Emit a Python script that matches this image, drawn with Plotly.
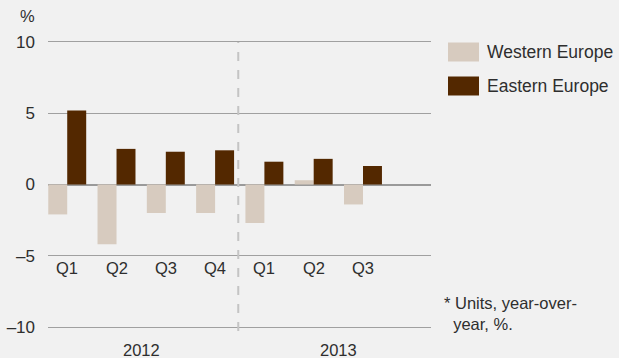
import plotly.graph_objects as go

quarters = ["Q1", "Q2", "Q3", "Q4", "Q1", "Q2", "Q3"]
years = ["2012", "2013"]
western = [-2.1, -4.2, -2.0, -2.0, -2.7, 0.3, -1.4]
eastern = [5.2, 2.5, 2.3, 2.4, 1.6, 1.8, 1.3]
y_ticks = [10, 5, 0, -5, -10]
y_tick_text = ["10", "5", "0", "\u20135", "\u201310"]
series_names = ["Western Europe", "Eastern Europe"]
colors = ["#d7cbbf", "#532800"]
footnote = "* Units, year-over-<br>  year, %."

x = list(range(len(quarters)))
FONT = "Liberation Sans"
TXT = "#2e2e2e"
GRID = "#a0a0a0"
PL, PR, PT, PB = 48, 431, 42, 327
PW, PH = PR - PL, PB - PT


def px(xp):
    return (xp - PL) / PW


def py(yp):
    return (PB - yp) / PH


fig = go.Figure()
fig.add_trace(go.Bar(x=x, y=western, name=series_names[0], marker_color=colors[0],
                     marker_line_width=0))
fig.add_trace(go.Bar(x=x, y=eastern, name=series_names[1], marker_color=colors[1],
                     marker_line_width=0))

annotations = []
for i, q in enumerate(quarters):
    annotations.append(dict(x=i, y=py(268), xref="x", yref="paper", text=q, showarrow=False,
                            yanchor="middle", font=dict(size=16.5, color=TXT, family=FONT)))
annotations.append(dict(x=1.5, y=py(350), xref="x", yref="paper", text=years[0],
                        showarrow=False, yanchor="middle",
                        font=dict(size=16.5, color=TXT, family=FONT)))
annotations.append(dict(x=5.5, y=py(350), xref="x", yref="paper", text=years[1],
                        showarrow=False, yanchor="middle",
                        font=dict(size=16.5, color=TXT, family=FONT)))
annotations.append(dict(x=px(37), y=py(16), xref="paper", yref="paper", text="%",
                        showarrow=False, xanchor="right", yanchor="middle",
                        font=dict(size=16.5, color=TXT, family=FONT)))

# legend (custom)
shapes = []
for k, (nm, c) in enumerate(zip(series_names, colors)):
    yc = 52 + k * 34
    shapes.append(dict(type="rect", xref="paper", yref="paper",
                       x0=px(448), x1=px(479), y0=py(yc + 9.5), y1=py(yc - 9.5),
                       fillcolor=c, line_width=0))
    annotations.append(dict(xref="paper", yref="paper", x=px(485), y=py(yc), text=nm,
                            showarrow=False, xanchor="left", yanchor="middle",
                            font=dict(size=17.5, color=TXT, family=FONT)))

annotations.append(dict(xref="paper", yref="paper", x=px(442), y=py(292),
                        text=footnote, showarrow=False, xanchor="left", yanchor="top",
                        align="left", font=dict(size=16.5, color=TXT, family=FONT)))

# divider between years
shapes.append(dict(type="line", xref="x", yref="paper", x0=3.47, x1=3.47, y0=py(331), y1=1,
                   line=dict(color="#c4c4c4", width=2, dash="dash")))

fig.update_layout(
    width=619, height=358,
    margin=dict(l=PL, r=619 - PR, t=PT, b=358 - PB, autoexpand=False),
    paper_bgcolor="#f1f1f1", plot_bgcolor="#f1f1f1",
    barmode="group", bargap=0.23, bargroupgap=0,
    showlegend=False,
    font=dict(family=FONT, size=16, color=TXT),
    xaxis=dict(range=[-0.39, 7.38], showticklabels=False, showgrid=False, zeroline=False,
               showline=True, mirror=True, linecolor=GRID, linewidth=1, fixedrange=True,
               automargin=False),
    yaxis=dict(range=[-10, 10], tickvals=y_ticks, ticktext=y_tick_text, showgrid=True,
               gridcolor=GRID, gridwidth=1, zeroline=True, zerolinecolor="#9a9a9a",
               zerolinewidth=2, ticks="", ticklabelstandoff=12, automargin=False,
               tickfont=dict(size=17, color=TXT, family=FONT)),
    annotations=annotations, shapes=shapes,
)
fig.write_html("out.html", config={"displayModeBar": False},
               post_script="document.body.style.margin='0';document.body.style.padding='0';"
                           "document.body.style.overflow='hidden';")
